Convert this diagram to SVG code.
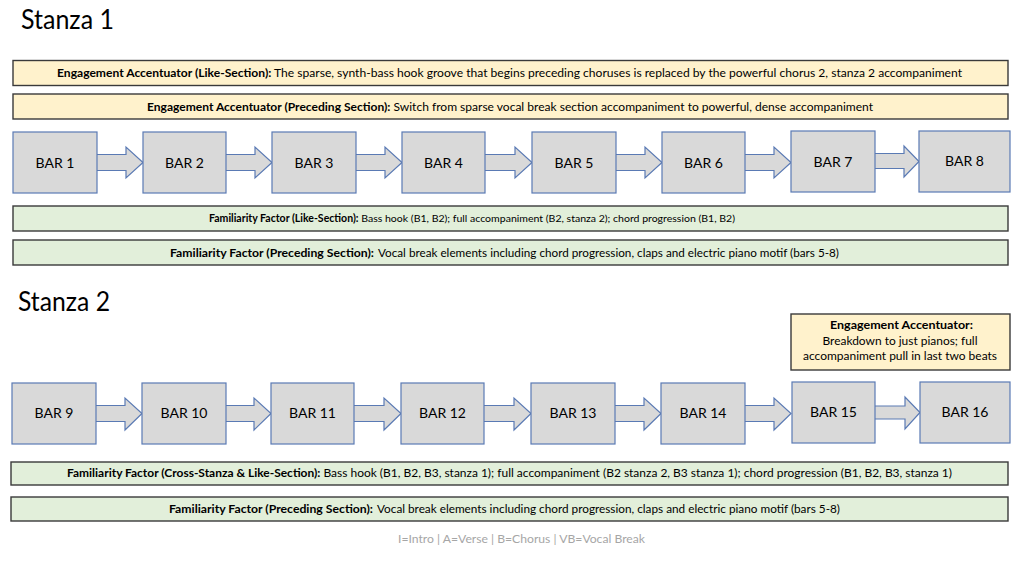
<svg xmlns="http://www.w3.org/2000/svg" width="1024" height="562" viewBox="0 0 1024 562">
<style>
text{font-family:Lato,"Open Sans","Liberation Sans",sans-serif;fill:#000}
.title{font-size:27px}
.info{font-size:11.5px}
.small{font-size:10.4px}
.b{font-weight:bold}
.bar rect{fill:#d9d9d9;stroke:#5a7ab4;stroke-width:1.2}
.bar text{font-size:14px;text-anchor:middle}
.arr{fill:#d9d9d9;stroke:#5a7ab4;stroke-width:1.2;stroke-linejoin:miter}
.yel{fill:#fff2cc;stroke:#3a3a3a;stroke-width:1.4}
.grn{fill:#e2efda;stroke:#3a3a3a;stroke-width:1.4}
.foot{font-size:11px;fill:#a6a6a6}
</style>
<rect width="1024" height="562" fill="#fff"/>
<text class="title" x="21" y="29" textLength="93" lengthAdjust="spacingAndGlyphs">Stanza 1</text>
<text class="title" x="18" y="311" textLength="92" lengthAdjust="spacingAndGlyphs">Stanza 2</text>

<g id="ea-like-1">
<rect class="yel" x="13" y="60.5" width="995" height="25"/>
<text class="info" x="57" y="77" textLength="905" lengthAdjust="spacingAndGlyphs"><tspan class="b">Engagement Accentuator (Like-Section):</tspan> The sparse, synth-bass hook groove that begins preceding choruses is replaced by the powerful chorus 2, stanza 2 accompaniment</text>
</g>
<g id="ea-prec-1">
<rect class="yel" x="13" y="94" width="995" height="25"/>
<text class="info" x="147" y="110.5" textLength="726" lengthAdjust="spacingAndGlyphs"><tspan class="b">Engagement Accentuator (Preceding Section):</tspan> Switch from sparse vocal break section accompaniment to powerful, dense accompaniment</text>
</g>

<g id="connectors">
<path class="arr" d="M95,154.5 H126 V147 L143,162.5 L126,178 V170.5 H95 Z"/>
<path class="arr" d="M225,154.5 H255 V147 L272,162.5 L255,178 V170.5 H225 Z"/>
<path class="arr" d="M354,154.5 H385 V147 L402,162.5 L385,178 V170.5 H354 Z"/>
<path class="arr" d="M484,154.5 H515 V147 L532,162.5 L515,178 V170.5 H484 Z"/>
<path class="arr" d="M614,154.5 H645 V147 L662,162.5 L645,178 V170.5 H614 Z"/>
<path class="arr" d="M744,154.5 H774 V147 L791,162.5 L774,178 V170.5 H744 Z"/>
<path class="arr" d="M873,153.5 H904 V146 L919,161.5 L904,177 V168.5 H873 Z"/>

<path class="arr" d="M94,405.5 H125 V398 L142,413.5 L125,430 V421.5 H94 Z"/>
<path class="arr" d="M224,405.5 H254 V398 L271,413.5 L254,430 V421.5 H224 Z"/>
<path class="arr" d="M353,405.5 H384 V398 L401,413.5 L384,430 V421.5 H353 Z"/>
<path class="arr" d="M483,405.5 H514 V398 L531,413.5 L514,430 V421.5 H483 Z"/>
<path class="arr" d="M613,405.5 H644 V398 L661,413.5 L644,430 V421.5 H613 Z"/>
<path class="arr" d="M743,405.5 H774 V398 L791,413.5 L774,430 V421.5 H743 Z"/>
<path class="arr" d="M873,406 H905 V397 L920,412.5 L905,429 V419 H873 Z"/>
</g>

<g id="bar1" class="bar"><rect x="13" y="132" width="84" height="61"/><text x="55" y="168">BAR 1</text></g>
<g id="bar2" class="bar"><rect x="143" y="132" width="83" height="61"/><text x="184.5" y="168">BAR 2</text></g>
<g id="bar3" class="bar"><rect x="272" y="132" width="84" height="61"/><text x="314" y="168">BAR 3</text></g>
<g id="bar4" class="bar"><rect x="402" y="132" width="83" height="61"/><text x="443.5" y="168">BAR 4</text></g>
<g id="bar5" class="bar"><rect x="532" y="132" width="84" height="61"/><text x="574" y="168">BAR 5</text></g>
<g id="bar6" class="bar"><rect x="662" y="132" width="83" height="61"/><text x="703.5" y="168">BAR 6</text></g>
<g id="bar7" class="bar"><rect x="791" y="131" width="84" height="61"/><text x="833" y="167">BAR 7</text></g>
<g id="bar8" class="bar"><rect x="919" y="131" width="91" height="61"/><text x="964.5" y="166">BAR 8</text></g>

<g id="ff-like-1">
<rect class="grn" x="13" y="206" width="995" height="25"/>
<text class="small" x="209" y="222" textLength="526" lengthAdjust="spacingAndGlyphs"><tspan class="b">Familiarity Factor (Like-Section):</tspan> Bass hook (B1, B2); full accompaniment (B2, stanza 2); chord progression (B1, B2)</text>
</g>
<g id="ff-prec-1">
<rect class="grn" x="13" y="240" width="995" height="25"/>
<text class="info b" x="170" y="256.5" textLength="204" lengthAdjust="spacingAndGlyphs">Familiarity Factor (Preceding Section):</text>
<text class="info" x="378" y="256.5" textLength="461" lengthAdjust="spacingAndGlyphs">Vocal break elements including chord progression, claps and electric piano motif (bars 5-8)</text>
</g>

<g id="ea-2">
<rect class="yel" x="791" y="314" width="219" height="56"/>
<text class="info b" x="901.5" y="328.5" text-anchor="middle" textLength="143" lengthAdjust="spacingAndGlyphs">Engagement Accentuator:</text>
<text class="info" x="900" y="344.5" text-anchor="middle" textLength="155" lengthAdjust="spacingAndGlyphs">Breakdown to just pianos; full</text>
<text class="info" x="900" y="360" text-anchor="middle" textLength="194" lengthAdjust="spacingAndGlyphs">accompaniment pull in last two beats</text>
</g>

<g id="bar9" class="bar"><rect x="12" y="383" width="84" height="61"/><text x="54" y="418">BAR 9</text></g>
<g id="bar10" class="bar"><rect x="142" y="383" width="84" height="61"/><text x="184" y="418">BAR 10</text></g>
<g id="bar11" class="bar"><rect x="271" y="383" width="83" height="61"/><text x="312.5" y="418">BAR 11</text></g>
<g id="bar12" class="bar"><rect x="401" y="383" width="83" height="61"/><text x="442.5" y="418">BAR 12</text></g>
<g id="bar13" class="bar"><rect x="531" y="383" width="84" height="61"/><text x="573" y="418">BAR 13</text></g>
<g id="bar14" class="bar"><rect x="661" y="383" width="84" height="61"/><text x="703" y="418">BAR 14</text></g>
<g id="bar15" class="bar"><rect x="792" y="382" width="83" height="61"/><text x="833.5" y="417">BAR 15</text></g>
<g id="bar16" class="bar"><rect x="920" y="382" width="90" height="61"/><text x="965" y="417">BAR 16</text></g>

<g id="ff-cross-2">
<rect class="grn" x="11" y="462" width="997" height="23"/>
<text class="info" x="67" y="477" textLength="885" lengthAdjust="spacingAndGlyphs"><tspan class="b">Familiarity Factor (Cross-Stanza &amp; Like-Section):</tspan> Bass hook (B1, B2, B3, stanza 1); full accompaniment (B2 stanza 2, B3 stanza 1); chord progression (B1, B2, B3, stanza 1)</text>
</g>
<g id="ff-prec-2">
<rect class="grn" x="11" y="497" width="997" height="24"/>
<text class="info b" x="169" y="512.5" textLength="204" lengthAdjust="spacingAndGlyphs">Familiarity Factor (Preceding Section):</text>
<text class="info" x="377" y="512.5" textLength="463" lengthAdjust="spacingAndGlyphs">Vocal break elements including chord progression, claps and electric piano motif (bars 5-8)</text>
</g>

<text class="foot" x="398" y="543" textLength="247" lengthAdjust="spacingAndGlyphs">I=Intro | A=Verse | B=Chorus | VB=Vocal Break</text>
</svg>
